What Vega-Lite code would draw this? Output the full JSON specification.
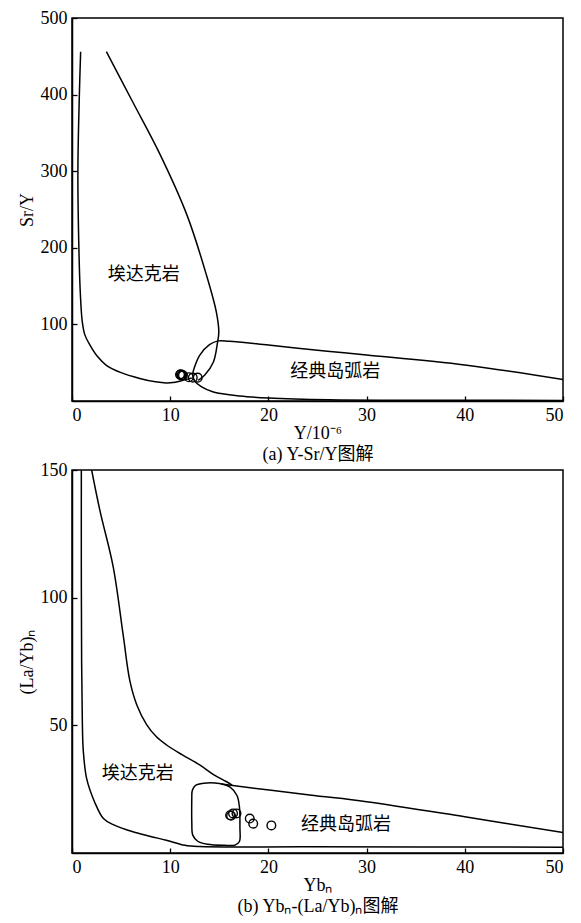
{
  "$schema": "https://vega.github.io/schema/vega-lite/v6.json",
  "background": "white",
  "padding": {"left": 17, "top": 8, "right": 5, "bottom": 5},
  "bounds": "flush",
  "spacing": 69,
  "config": {
    "view": {"stroke": "black", "strokeWidth": 1.5},
    "axis": {
      "grid": false,
      "domainColor": "black",
      "domainWidth": 1.5,
      "tickColor": "black",
      "tickWidth": 1.3,
      "tickSize": -5,
      "labelPadding": 10,
      "labelFont": "Liberation Serif",
      "labelFontSize": 18,
      "labelColor": "black",
      "titleFont": "Liberation Serif, Noto Sans CJK SC",
      "titleFontSize": 18,
      "titleFontWeight": "normal",
      "titleColor": "black",
      "titleLineHeight": 21
    },
    "axisX": {"titlePadding": 0},
    "axisY": {"titlePadding": 4}
  },
  "datasets": {
    "linesA": [
      {"seg": "a1", "o": 1, "x": 0.88, "y": 456}, {"seg": "a1", "o": 2, "x": 0.75, "y": 400}, {"seg": "a1", "o": 3, "x": 0.6, "y": 300}, {"seg": "a1", "o": 4, "x": 0.7, "y": 200}, {"seg": "a1", "o": 5, "x": 0.85, "y": 140}, {"seg": "a1", "o": 6, "x": 1.05, "y": 103}, {"seg": "a1", "o": 7, "x": 1.32, "y": 86}, {"seg": "a1", "o": 8, "x": 1.83, "y": 73}, {"seg": "a1", "o": 9, "x": 2.6, "y": 58}, {"seg": "a1", "o": 10, "x": 3.5, "y": 46.6}, {"seg": "a1", "o": 11, "x": 5.0, "y": 37}, {"seg": "a1", "o": 12, "x": 6.9, "y": 29.5}, {"seg": "a1", "o": 13, "x": 8.5, "y": 25}, {"seg": "a1", "o": 14, "x": 9.6, "y": 23.5}, {"seg": "a1", "o": 15, "x": 10.5, "y": 24.5}, {"seg": "a1", "o": 16, "x": 11.3, "y": 27}, {"seg": "a1", "o": 17, "x": 12.2, "y": 30},
      {"seg": "a2", "o": 1, "x": 3.5, "y": 456}, {"seg": "a2", "o": 2, "x": 6.2, "y": 390}, {"seg": "a2", "o": 3, "x": 9.0, "y": 321}, {"seg": "a2", "o": 4, "x": 11.7, "y": 243}, {"seg": "a2", "o": 5, "x": 13.7, "y": 164}, {"seg": "a2", "o": 6, "x": 14.7, "y": 116}, {"seg": "a2", "o": 7, "x": 14.95, "y": 90}, {"seg": "a2", "o": 8, "x": 14.8, "y": 75}, {"seg": "a2", "o": 9, "x": 14.4, "y": 51}, {"seg": "a2", "o": 10, "x": 13.5, "y": 33.5}, {"seg": "a2", "o": 11, "x": 12.85, "y": 27},
      {"seg": "b1", "o": 1, "x": 50, "y": 28}, {"seg": "b1", "o": 2, "x": 40, "y": 47}, {"seg": "b1", "o": 3, "x": 30, "y": 60}, {"seg": "b1", "o": 4, "x": 26, "y": 65}, {"seg": "b1", "o": 5, "x": 20, "y": 73}, {"seg": "b1", "o": 6, "x": 16, "y": 78}, {"seg": "b1", "o": 7, "x": 14.9, "y": 78.5}, {"seg": "b1", "o": 8, "x": 14.0, "y": 73.5}, {"seg": "b1", "o": 9, "x": 13.0, "y": 59.6}, {"seg": "b1", "o": 10, "x": 12.5, "y": 45}, {"seg": "b1", "o": 11, "x": 12.3, "y": 35}, {"seg": "b1", "o": 12, "x": 12.5, "y": 26}, {"seg": "b1", "o": 13, "x": 13.2, "y": 18.3}, {"seg": "b1", "o": 14, "x": 14.4, "y": 11.7}, {"seg": "b1", "o": 15, "x": 17.1, "y": 6.5}, {"seg": "b1", "o": 16, "x": 20, "y": 3.9}, {"seg": "b1", "o": 17, "x": 26.2, "y": 1.6}, {"seg": "b1", "o": 18, "x": 35, "y": 1.0}, {"seg": "b1", "o": 19, "x": 50, "y": 0.8}
    ],
    "ptsA": [
      {"x": 11.0, "y": 34.5}, {"x": 11.1, "y": 35}, {"x": 11.2, "y": 34}, {"x": 11.3, "y": 33.5}, {"x": 11.15, "y": 33}, {"x": 11.9, "y": 31}, {"x": 12.3, "y": 30.5}, {"x": 12.8, "y": 30.5}
    ],
    "txtA": [
      {"x": 7.3, "y": 164, "t": "埃达克岩"}, {"x": 26.8, "y": 38, "t": "经典岛弧岩"}
    ],
    "linesB": [
      {"seg": "c1", "o": 1, "x": 0.95, "y": 150}, {"seg": "c1", "o": 2, "x": 0.95, "y": 110}, {"seg": "c1", "o": 3, "x": 0.98, "y": 75}, {"seg": "c1", "o": 4, "x": 1.05, "y": 52}, {"seg": "c1", "o": 5, "x": 1.15, "y": 40}, {"seg": "c1", "o": 6, "x": 1.5, "y": 29}, {"seg": "c1", "o": 7, "x": 2.3, "y": 20}, {"seg": "c1", "o": 8, "x": 3.2, "y": 13.5}, {"seg": "c1", "o": 9, "x": 4.2, "y": 11.1}, {"seg": "c1", "o": 10, "x": 6.2, "y": 8.3}, {"seg": "c1", "o": 11, "x": 8.0, "y": 6.5}, {"seg": "c1", "o": 12, "x": 9.6, "y": 5}, {"seg": "c1", "o": 13, "x": 11.5, "y": 3.0}, {"seg": "c1", "o": 14, "x": 13, "y": 2.5}, {"seg": "c1", "o": 15, "x": 24, "y": 2.4}, {"seg": "c1", "o": 16, "x": 50, "y": 2.3},
      {"seg": "c2", "o": 1, "x": 2.0, "y": 150}, {"seg": "c2", "o": 2, "x": 2.85, "y": 134}, {"seg": "c2", "o": 3, "x": 4.2, "y": 112}, {"seg": "c2", "o": 4, "x": 5.2, "y": 85.7}, {"seg": "c2", "o": 5, "x": 5.9, "y": 67.3}, {"seg": "c2", "o": 6, "x": 6.6, "y": 58}, {"seg": "c2", "o": 7, "x": 7.6, "y": 50.3}, {"seg": "c2", "o": 8, "x": 8.6, "y": 45.5}, {"seg": "c2", "o": 9, "x": 9.6, "y": 42.4}, {"seg": "c2", "o": 10, "x": 11.2, "y": 38.5}, {"seg": "c2", "o": 11, "x": 13.0, "y": 34.5}, {"seg": "c2", "o": 12, "x": 14.5, "y": 30.5}, {"seg": "c2", "o": 13, "x": 15.7, "y": 28}, {"seg": "c2", "o": 14, "x": 16.3, "y": 26.6},
      {"seg": "c3", "o": 1, "x": 15.2, "y": 27}, {"seg": "c3", "o": 2, "x": 24.2, "y": 22.7}, {"seg": "c3", "o": 3, "x": 30, "y": 20.1}, {"seg": "c3", "o": 4, "x": 40, "y": 14.2}, {"seg": "c3", "o": 5, "x": 50, "y": 8.0},
      {"seg": "c4", "o": 1, "x": 12.2, "y": 22}, {"seg": "c4", "o": 2, "x": 12.2, "y": 12}, {"seg": "c4", "o": 3, "x": 12.3, "y": 7}, {"seg": "c4", "o": 4, "x": 12.8, "y": 4.6}, {"seg": "c4", "o": 5, "x": 13.8, "y": 3.4}, {"seg": "c4", "o": 6, "x": 15.5, "y": 3.0}, {"seg": "c4", "o": 7, "x": 16.6, "y": 3.1}, {"seg": "c4", "o": 8, "x": 17.05, "y": 4.5}, {"seg": "c4", "o": 9, "x": 17.1, "y": 10}, {"seg": "c4", "o": 10, "x": 17.05, "y": 18}, {"seg": "c4", "o": 11, "x": 16.8, "y": 22.5}, {"seg": "c4", "o": 12, "x": 16.1, "y": 25.8}, {"seg": "c4", "o": 13, "x": 15.0, "y": 27.2}, {"seg": "c4", "o": 14, "x": 13.4, "y": 27.3}, {"seg": "c4", "o": 15, "x": 12.55, "y": 26.4}, {"seg": "c4", "o": 16, "x": 12.25, "y": 24.5}, {"seg": "c4", "o": 17, "x": 12.2, "y": 22}
    ],
    "ptsB": [
      {"x": 16.1, "y": 14.8}, {"x": 16.4, "y": 15.5}, {"x": 16.75, "y": 15.5}, {"x": 16.2, "y": 14.6}, {"x": 18.1, "y": 13.5}, {"x": 18.45, "y": 11.5}, {"x": 20.3, "y": 10.8}
    ],
    "txtB": [
      {"x": 6.7, "y": 31, "t": "埃达克岩"}, {"x": 27.9, "y": 10.9, "t": "经典岛弧岩"}
    ]
  },
  "vconcat": [
    {
      "width": 491,
      "height": 383,
      "layer": [
        {
          "data": {"name": "linesA"},
          "mark": {"type": "line", "color": "black", "strokeWidth": 1.5, "interpolate": "catmull-rom", "clip": true},
          "encoding": {
            "x": {"field": "x", "type": "quantitative", "scale": {"domain": [0, 50], "nice": false}, "axis": {"values": [0, 10, 20, 30, 40, 50], "title": ["Y/10⁻⁶", "(a) Y-Sr/Y图解"]}},
            "y": {"field": "y", "type": "quantitative", "scale": {"domain": [0, 500], "nice": false}, "axis": {"values": [100, 200, 300, 400, 500], "title": "Sr/Y"}},
            "detail": {"field": "seg"},
            "order": {"field": "o", "type": "quantitative"}
          }
        },
        {
          "data": {"name": "ptsA"},
          "mark": {"type": "point", "filled": false, "color": "black", "size": 75, "strokeWidth": 1.4, "opacity": 1},
          "encoding": {
            "x": {"field": "x", "type": "quantitative"},
            "y": {"field": "y", "type": "quantitative"}
          }
        },
        {
          "data": {"name": "txtA"},
          "mark": {"type": "text", "font": "Noto Sans CJK SC", "fontSize": 18, "color": "black"},
          "encoding": {
            "x": {"field": "x", "type": "quantitative"},
            "y": {"field": "y", "type": "quantitative"},
            "text": {"field": "t"}
          }
        }
      ]
    },
    {
      "width": 491,
      "height": 383,
      "layer": [
        {
          "data": {"name": "linesB"},
          "mark": {"type": "line", "color": "black", "strokeWidth": 1.5, "interpolate": "catmull-rom", "clip": true},
          "encoding": {
            "x": {"field": "x", "type": "quantitative", "scale": {"domain": [0, 50], "nice": false}, "axis": {"values": [0, 10, 20, 30, 40, 50], "title": ["Ybₙ", "(b) Ybₙ-(La/Yb)ₙ图解"]}},
            "y": {"field": "y", "type": "quantitative", "scale": {"domain": [0, 150], "nice": false}, "axis": {"values": [50, 100, 150], "title": "(La/Yb)ₙ"}},
            "detail": {"field": "seg"},
            "order": {"field": "o", "type": "quantitative"}
          }
        },
        {
          "data": {"name": "ptsB"},
          "mark": {"type": "point", "filled": false, "color": "black", "size": 75, "strokeWidth": 1.4, "opacity": 1},
          "encoding": {
            "x": {"field": "x", "type": "quantitative"},
            "y": {"field": "y", "type": "quantitative"}
          }
        },
        {
          "data": {"name": "txtB"},
          "mark": {"type": "text", "font": "Noto Sans CJK SC", "fontSize": 18, "color": "black"},
          "encoding": {
            "x": {"field": "x", "type": "quantitative"},
            "y": {"field": "y", "type": "quantitative"},
            "text": {"field": "t"}
          }
        }
      ]
    }
  ]
}
